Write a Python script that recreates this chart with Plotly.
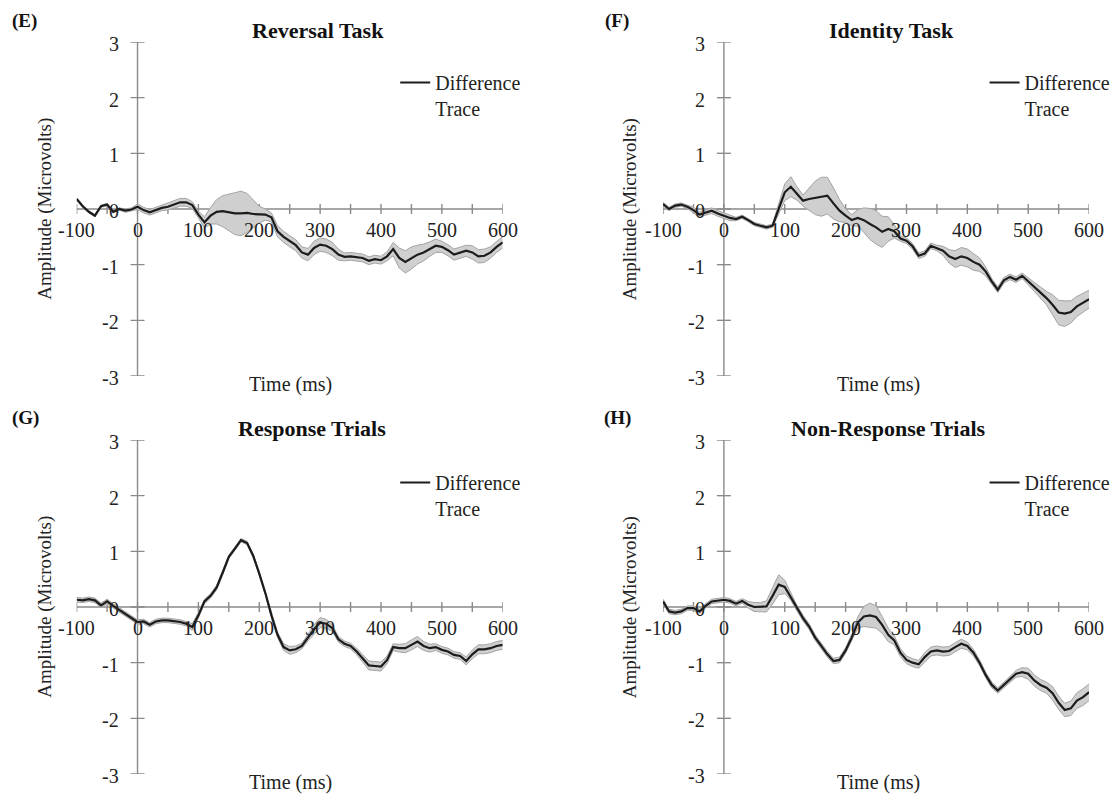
import plotly.graph_objects as go

# ---------------- data ----------------
time_ms = list(range(-100, 601, 10))

x_ticks = list(range(-100, 601, 50))
x_tick_labels = ["-100", "0", "100", "200", "300", "400", "500", "600"]
x_label_vals = [-100, 0, 100, 200, 300, 400, 500, 600]
y_ticks = [-3, -2, -1, 0, 1, 2, 3]
y_tick_labels = ["-3", "-2", "-1", "0", "1", "2", "3"]

reversal_mean = [
    0.18, 0.05, -0.05, -0.12, 0.05, 0.08, -0.05, 0.00, -0.03, -0.01,
    0.04, -0.02, -0.06, -0.02, 0.02, 0.04, 0.08, 0.12, 0.12, 0.07,
    -0.10, -0.24, -0.12, -0.05, -0.04, -0.06, -0.08, -0.08, -0.07, -0.09,
    -0.10, -0.10, -0.15, -0.40, -0.50, -0.58, -0.65, -0.78, -0.82, -0.70,
    -0.64, -0.66, -0.72, -0.82, -0.86, -0.85, -0.87, -0.88, -0.93, -0.90,
    -0.92, -0.85, -0.72, -0.88, -0.95, -0.88, -0.82, -0.78, -0.72, -0.66,
    -0.68, -0.74, -0.82, -0.78, -0.75, -0.78, -0.85, -0.84, -0.78, -0.68,
    -0.60]
reversal_se = [
    0.02, 0.02, 0.02, 0.02, 0.02, 0.02, 0.02, 0.02, 0.03, 0.03,
    0.05, 0.05, 0.05, 0.05, 0.05, 0.06, 0.07, 0.07, 0.07, 0.06,
    0.06, 0.10, 0.15, 0.22, 0.28, 0.33, 0.38, 0.40, 0.35, 0.25,
    0.15, 0.10, 0.08, 0.10, 0.10, 0.10, 0.10, 0.10, 0.11, 0.12,
    0.12, 0.12, 0.12, 0.10, 0.07, 0.07, 0.07, 0.07, 0.07, 0.07,
    0.07, 0.08, 0.12, 0.18, 0.20, 0.20, 0.17, 0.15, 0.13, 0.12,
    0.10, 0.10, 0.10, 0.10, 0.10, 0.12, 0.12, 0.12, 0.10, 0.10,
    0.10]

identity_mean = [
    0.09, 0.00, 0.06, 0.08, 0.04, -0.02, -0.10, -0.06, -0.03, -0.08,
    -0.12, -0.16, -0.18, -0.14, -0.20, -0.27, -0.30, -0.33, -0.30, 0.00,
    0.30, 0.40, 0.28, 0.15, 0.18, 0.20, 0.22, 0.24, 0.10, -0.03,
    -0.12, -0.20, -0.16, -0.20, -0.27, -0.33, -0.41, -0.36, -0.40, -0.53,
    -0.57, -0.67, -0.84, -0.80, -0.66, -0.70, -0.75, -0.85, -0.90, -0.85,
    -0.88, -0.95, -1.00, -1.12, -1.30, -1.45, -1.28, -1.22, -1.27, -1.20,
    -1.30, -1.40, -1.50, -1.60, -1.72, -1.86, -1.88, -1.85, -1.75, -1.68,
    -1.62]
identity_se = [
    0.03, 0.03, 0.03, 0.03, 0.03, 0.05, 0.05, 0.05, 0.05, 0.05,
    0.05, 0.05, 0.03, 0.03, 0.03, 0.03, 0.03, 0.03, 0.03, 0.08,
    0.15, 0.18, 0.12, 0.10, 0.20, 0.30, 0.35, 0.33, 0.28, 0.20,
    0.12, 0.10, 0.15, 0.22, 0.28, 0.30, 0.28, 0.22, 0.12, 0.05,
    0.05, 0.05, 0.05, 0.05, 0.05, 0.05, 0.08, 0.12, 0.15, 0.16,
    0.16, 0.15, 0.12, 0.08, 0.05, 0.05, 0.05, 0.05, 0.05, 0.05,
    0.06, 0.08, 0.10, 0.12, 0.18, 0.22, 0.23, 0.20, 0.18, 0.17,
    0.16]

response_mean = [
    0.13, 0.12, 0.14, 0.12, 0.03, 0.10, 0.02, -0.05, -0.12, -0.20,
    -0.27, -0.26, -0.32, -0.26, -0.24, -0.24, -0.25, -0.27, -0.30, -0.36,
    -0.15, 0.10, 0.20, 0.35, 0.62, 0.90, 1.05, 1.20, 1.15, 0.92,
    0.60, 0.25, -0.15, -0.50, -0.72, -0.78, -0.76, -0.70, -0.55, -0.40,
    -0.28, -0.30, -0.38, -0.58, -0.66, -0.70, -0.80, -0.92, -1.05, -1.06,
    -1.07, -0.95, -0.72, -0.74, -0.74, -0.68, -0.62, -0.70, -0.74, -0.72,
    -0.77, -0.80, -0.86, -0.88, -0.97, -0.85, -0.76, -0.76, -0.74, -0.70,
    -0.68]
response_se = [
    0.04, 0.04, 0.04, 0.04, 0.04, 0.04, 0.04, 0.04, 0.04, 0.04,
    0.04, 0.04, 0.04, 0.04, 0.04, 0.04, 0.04, 0.04, 0.04, 0.06,
    0.05, 0.04, 0.04, 0.04, 0.04, 0.03, 0.03, 0.03, 0.03, 0.03,
    0.03, 0.03, 0.04, 0.05, 0.06, 0.07, 0.06, 0.05, 0.06, 0.08,
    0.09, 0.08, 0.06, 0.05, 0.05, 0.05, 0.06, 0.07, 0.08, 0.08,
    0.08, 0.07, 0.06, 0.07, 0.08, 0.09, 0.09, 0.08, 0.07, 0.06,
    0.06, 0.06, 0.06, 0.06, 0.07, 0.08, 0.08, 0.08, 0.08, 0.08,
    0.08]

nonresponse_mean = [
    0.10, -0.08, -0.10, -0.08, -0.02, -0.02, -0.08, 0.02, 0.10, 0.12,
    0.13, 0.11, 0.06, 0.11, 0.04, 0.00, 0.00, 0.01, 0.20, 0.40,
    0.36, 0.18, -0.02, -0.20, -0.35, -0.55, -0.70, -0.85, -0.97, -0.95,
    -0.78, -0.55, -0.28, -0.17, -0.15, -0.18, -0.32, -0.50, -0.60, -0.82,
    -0.95, -1.00, -1.03, -0.90, -0.80, -0.78, -0.80, -0.79, -0.72, -0.66,
    -0.70, -0.82, -1.00, -1.22, -1.40, -1.50, -1.40, -1.30, -1.20, -1.17,
    -1.20, -1.32, -1.40, -1.45, -1.55, -1.72, -1.85, -1.82, -1.68, -1.62,
    -1.53]
nonresponse_se = [
    0.04, 0.04, 0.04, 0.04, 0.04, 0.04, 0.04, 0.04, 0.04, 0.04,
    0.04, 0.04, 0.04, 0.04, 0.06, 0.08, 0.08, 0.10, 0.15, 0.18,
    0.12, 0.06, 0.05, 0.05, 0.05, 0.05, 0.05, 0.05, 0.05, 0.05,
    0.05, 0.06, 0.10, 0.18, 0.22, 0.20, 0.15, 0.12, 0.08, 0.07,
    0.07, 0.07, 0.07, 0.08, 0.08, 0.08, 0.08, 0.08, 0.08, 0.08,
    0.07, 0.06, 0.05, 0.05, 0.05, 0.05, 0.05, 0.05, 0.06, 0.08,
    0.10, 0.10, 0.10, 0.10, 0.12, 0.12, 0.12, 0.13, 0.14, 0.15,
    0.15]

panel_letters = ["(E)", "(F)", "(G)", "(H)"]
panel_titles = ["Reversal Task", "Identity Task", "Response Trials", "Non-Response Trials"]
panel_means = [reversal_mean, identity_mean, response_mean, nonresponse_mean]
panel_ses = [reversal_se, identity_se, response_se, nonresponse_se]
series_name = "Difference<br>Trace"
x_title = "Time (ms)"
y_title = "Amplitude (Microvolts)"

# ---------------- layout geometry (pixels) ----------------
W, H = 1116, 798
FONT = "Liberation Serif"
AXIS_COLOR = "#8a8a8a"
BAND_FILL = "#cfcfcf"
BAND_EDGE = "#a3a3a3"

def px(x):
    return x / W

def py(y):
    return 1 - y / H

# plot-area pixel boxes: (left, right, top, bottom)
boxes = [(77, 505, 42, 376), (666, 1094, 42, 376),
         (77, 505, 440, 774), (666, 1094, 440, 774)]
letter_pos = [(25, 21), (620, 21), (26, 418), (620, 418)]
title_pos = [(319, 30), (896, 30), (313, 428), (892, 428)]
ytitle_pos = [(45, 209), (633, 209), (45, 607), (633, 607)]
xtitle_pos = [(292, 384), (882, 384), (292, 782), (882, 782)]
legend_pos = [(397, 63), (989, 63), (397, 463), (989, 463)]

fig = go.Figure()
shapes = []
annotations = []
layout_axes = {}

for i in range(4):
    n = "" if i == 0 else str(i + 1)
    xa, ya = "x" + n, "y" + n
    lg = "legend" + n
    mean = panel_means[i]
    se = panel_ses[i]
    upper = [m + s for m, s in zip(mean, se)]
    lower = [m - s for m, s in zip(mean, se)]

    fig.add_trace(go.Scatter(x=time_ms, y=upper, mode="lines",
                             line=dict(color=BAND_EDGE, width=1),
                             xaxis=xa, yaxis=ya, showlegend=False, hoverinfo="skip"))
    fig.add_trace(go.Scatter(x=time_ms, y=lower, mode="lines",
                             line=dict(color=BAND_EDGE, width=1),
                             fill="tonexty", fillcolor=BAND_FILL,
                             xaxis=xa, yaxis=ya, showlegend=False, hoverinfo="skip"))
    fig.add_trace(go.Scatter(x=time_ms, y=mean, mode="lines", name=series_name,
                             line=dict(color="#1c1c1c", width=2.2),
                             xaxis=xa, yaxis=ya, legend=lg, showlegend=True))

    l, r, t, b = boxes[i]
    layout_axes["xaxis" + n] = dict(domain=[px(l), px(r)], range=[-100, 600],
                                    anchor=ya, visible=False, fixedrange=True)
    layout_axes["yaxis" + n] = dict(domain=[py(b), py(t)], range=[-3, 3],
                                    anchor=xa, visible=False, fixedrange=True)

    lx, ly = legend_pos[i]
    layout_axes[lg] = dict(x=px(lx), y=py(ly), xanchor="left", yanchor="top",
                           bgcolor="rgba(0,0,0,0)", borderwidth=0, valign="top",
                           font=dict(family=FONT, size=20, color="#222222"))

    # axis lines
    shapes.append(dict(type="line", xref=xa, yref=ya, x0=-100, x1=600, y0=0, y1=0,
                       line=dict(color=AXIS_COLOR, width=1.4), layer="below"))
    shapes.append(dict(type="line", xref=xa, yref=ya, x0=0, x1=0, y0=-3, y1=3,
                       line=dict(color=AXIS_COLOR, width=1.4), layer="below"))
    # crossing tick marks on the x axis
    for tv in x_ticks:
        shapes.append(dict(type="line", xref=xa, yref=ya, ysizemode="pixel", yanchor=0,
                           x0=tv, x1=tv, y0=-5, y1=5,
                           line=dict(color=AXIS_COLOR, width=1.4), layer="below"))
    # crossing tick marks on the y axis
    for tv in y_ticks:
        shapes.append(dict(type="line", xref=xa, yref=ya, xsizemode="pixel", xanchor=0,
                           x0=-7, x1=7, y0=tv, y1=tv,
                           line=dict(color=AXIS_COLOR, width=1.4), layer="below"))
    # tick labels
    for tv, tl in zip(x_label_vals, x_tick_labels):
        annotations.append(dict(xref=xa, yref=ya, x=tv, y=0, text=tl, showarrow=False,
                                xanchor="center", yanchor="middle", yshift=-21,
                                font=dict(family=FONT, size=20, color="#222222")))
    for tv, tl in zip(y_ticks, y_tick_labels):
        annotations.append(dict(xref=xa, yref=ya, x=0, y=tv, text=tl, showarrow=False,
                                xanchor="right", yanchor="middle", xshift=-17, yshift=-2,
                                font=dict(family=FONT, size=20, color="#222222")))

    # panel letter and title
    lx, ly = letter_pos[i]
    annotations.append(dict(xref="paper", yref="paper", x=px(lx), y=py(ly),
                            text="<b>" + panel_letters[i] + "</b>", showarrow=False,
                            xanchor="center", yanchor="middle",
                            font=dict(family=FONT, size=19, color="#111111")))
    tx, ty = title_pos[i]
    annotations.append(dict(xref="paper", yref="paper", x=px(tx), y=py(ty),
                            text="<b>" + panel_titles[i] + "</b>", showarrow=False,
                            xanchor="center", yanchor="middle",
                            font=dict(family=FONT, size=22, color="#111111")))
    # axis titles
    yx, yy = ytitle_pos[i]
    annotations.append(dict(xref="paper", yref="paper", x=px(yx), y=py(yy),
                            text=y_title, showarrow=False, textangle=-90,
                            xanchor="center", yanchor="middle",
                            font=dict(family=FONT, size=19, color="#222222")))
    xx, xy = xtitle_pos[i]
    annotations.append(dict(xref="paper", yref="paper", x=px(xx), y=py(xy),
                            text=x_title, showarrow=False,
                            xanchor="center", yanchor="middle",
                            font=dict(family=FONT, size=20, color="#222222")))

fig.update_layout(
    width=W, height=H, autosize=False,
    margin=dict(l=0, r=0, t=0, b=0),
    paper_bgcolor="white", plot_bgcolor="white",
    font=dict(family=FONT, size=20, color="#222222"),
    shapes=shapes, annotations=annotations,
    **layout_axes,
)

fig.write_html("out.html")
